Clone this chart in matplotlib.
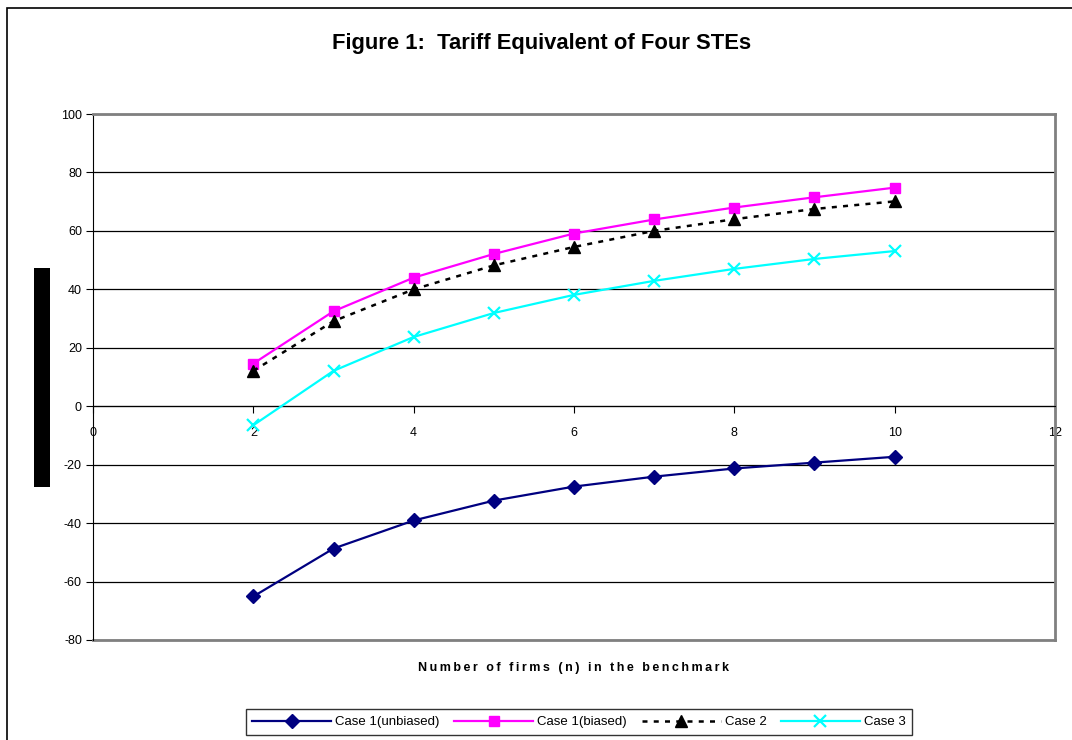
import matplotlib
matplotlib.use("Agg")
import matplotlib.pyplot as plt
from matplotlib.patches import Rectangle

plt.rcParams['font.family'] = ['Liberation Sans', 'DejaVu Sans']
plt.rcParams['axes.unicode_minus'] = False

# firms in the benchmark
n_firms = [2, 3, 4, 5, 6, 7, 8, 9, 10]

case1_unbiased = [-65.1, -48.7, -39.1, -32.3, -27.5, -24.1, -21.3, -19.3, -17.3]
case1_biased = [14.6, 32.5, 44.0, 52.1, 59.1, 63.9, 68.0, 71.5, 74.8]
case2 = [12.1, 29.1, 40.0, 48.2, 54.5, 60.0, 64.0, 67.5, 70.1]
case3 = [-6.5, 12.1, 23.7, 31.9, 38.1, 42.9, 47.0, 50.4, 53.1]

labels = ['Case 1(unbiased)', 'Case 1(biased)', 'Case 2', 'Case 3']
x_ticks = [0, 2, 4, 6, 8, 10, 12]
y_ticks = [-80, -60, -40, -20, 0, 20, 40, 60, 80, 100]

fig = plt.figure(figsize=(10.72, 7.40), dpi=100)
ax = fig.add_axes([93/1072, 1-640/740, (1055-93)/1072, (640-114)/740])

# outer chart border
fig.patches.append(Rectangle((7/1072, -0.05), 1.1, 1-8/740+0.05, transform=fig.transFigure,
                             fill=False, edgecolor='black', linewidth=1.2))
# black bar where y label would be
fig.patches.append(Rectangle((34/1072, 1-487/740), 16/1072, 219/740, transform=fig.transFigure,
                             facecolor='black', edgecolor='none'))

ax.plot(n_firms, case1_unbiased, color='#000080', lw=1.6, marker='D', ms=7, label=labels[0], zorder=3)
ax.plot(n_firms, case1_biased, color='#FF00FF', lw=1.6, marker='s', ms=7, label=labels[1], zorder=3)
ax.plot(n_firms, case2, color='black', lw=1.8, ls=(0, (2, 2.5)), marker='^', ms=8, label=labels[2], zorder=3)
ax.plot(n_firms, case3, color='#00FFFF', lw=1.6, marker='x', ms=9, mew=1.6, label=labels[3], zorder=3)

ax.set_xlim(0, 12)
ax.set_ylim(-80, 100)
ax.set_xticks(x_ticks)
ax.set_yticks(y_ticks)
ax.yaxis.grid(True, color='black', lw=0.9)
ax.set_axisbelow(True)

ax.spines['bottom'].set_position(('data', 0))
ax.spines['bottom'].set_color('black')
ax.spines['left'].set_color('black')
ax.spines['top'].set_color('#808080')
ax.spines['top'].set_linewidth(2)
ax.spines['right'].set_color('#808080')
ax.spines['right'].set_linewidth(2)
# bottom border of plot area
ax.axhline(-80, color='#808080', lw=2, zorder=1, clip_on=False)

ax.tick_params(axis='both', labelsize=9, direction='out', length=5, color='black', pad=3)
ax.tick_params(axis='x', pad=10)

fig.text(0.505, 1-43/740, 'Figure 1:  Tariff Equivalent of Four STEs', ha='center', va='center',
         fontsize=15.8, fontweight='bold')
xlab = 'Number of firms (n) in the benchmark'
fig.text(573/1072, 1-668/740, '\u2009'.join(xlab), ha='center', va='center',
         fontsize=9, fontweight='bold')

leg = fig.legend(loc='center', bbox_to_anchor=(579/1072, 1-722/740), ncol=4, fontsize=9.5,
                 frameon=True, fancybox=False, edgecolor='black', handlelength=6.0,
                 columnspacing=1.1, handletextpad=0.3, borderpad=0.5)
leg.get_frame().set_linewidth(1)

fig.savefig('out.png', dpi=100)
